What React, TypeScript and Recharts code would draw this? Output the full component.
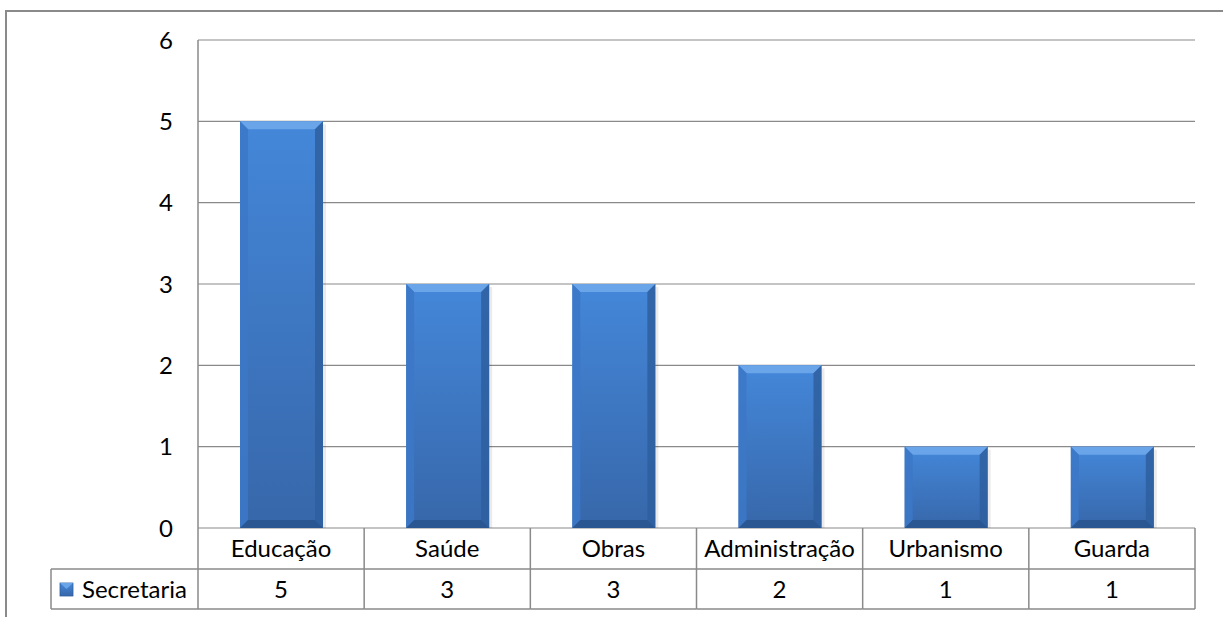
import React from "react";
import { BarChart, Bar, XAxis, YAxis, CartesianGrid } from "recharts";

const categories = ["Educação", "Saúde", "Obras", "Administração", "Urbanismo", "Guarda"];
const secretariaValues = [5, 3, 3, 2, 1, 1];
const yTicks = [0, 1, 2, 3, 4, 5, 6];
const seriesName = "Secretaria";

const data = categories.map((c, i) => ({ name: c, value: secretariaValues[i] }));

const LINE = "#8a8a8a";
const FONT = "Lato, 'Open Sans', sans-serif";
const FS = 24;

const BevelBar = (props: any) => {
  const { x, y, width, height } = props;
  if (!height || height <= 0) return null;
  const w = width;
  const h = height;
  const b = Math.min(8, h / 2, w / 2);
  return (
    <g>
      <rect x={x + w} y={y + 3} width={3} height={h - 3} fill="#000" opacity={0.08} />
      <rect x={x} y={y} width={w} height={h} fill="url(#barBody)" />
      <polygon points={`${x},${y} ${x + w},${y} ${x + w - b},${y + b} ${x + b},${y + b}`} fill="#6aa5ea" />
      <polygon points={`${x},${y} ${x + b},${y + b} ${x + b},${y + h - b} ${x},${y + h}`} fill="#3c78c6" opacity={0.9} />
      <polygon points={`${x + w},${y} ${x + w},${y + h} ${x + w - b},${y + h - b} ${x + w - b},${y + b}`} fill="#2e5f9f" opacity={0.85} />
      <polygon points={`${x},${y + h} ${x + w},${y + h} ${x + w - b},${y + h - b} ${x + b},${y + h - b}`} fill="#2a5792" />
    </g>
  );
};

const TableTick = (props: any) => {
  const { x, y, payload, index } = props;
  const half = payload && payload.offset ? payload.offset : 83;
  const rowH = 41;
  const left = x - half;
  const right = x + half;
  const value = secretariaValues[index];
  return (
    <g>
      <line x1={left} y1={y + rowH} x2={right} y2={y + rowH} stroke={LINE} strokeWidth={1.5} />
      <line x1={left} y1={y + rowH * 2 - 1} x2={right} y2={y + rowH * 2 - 1} stroke={LINE} strokeWidth={1.5} />
      <line x1={right} y1={y} x2={right} y2={y + rowH * 2 - 1} stroke={LINE} strokeWidth={1.5} />
      {index === 0 && (
        <g>
          <line x1={left} y1={y} x2={left} y2={y + rowH * 2 - 1} stroke={LINE} strokeWidth={1.5} />
          <line x1={left - 147} y1={y + rowH} x2={left} y2={y + rowH} stroke={LINE} strokeWidth={1.5} />
          <line x1={left - 147} y1={y + rowH * 2 - 1} x2={left} y2={y + rowH * 2 - 1} stroke={LINE} strokeWidth={1.5} />
          <line x1={left - 147} y1={y + rowH} x2={left - 147} y2={y + rowH * 2 - 1} stroke={LINE} strokeWidth={1.5} />
          <rect x={left - 138} y={y + rowH + 14} width={13} height={13} fill="url(#barBody)" stroke="#2e5f9f" strokeWidth={0.8} />
          <polygon
            points={`${left - 138},${y + rowH + 14} ${left - 125},${y + rowH + 14} ${left - 131.5},${y + rowH + 20}`}
            fill="#6aa5ea"
          />
          <text x={left - 116} y={y + rowH + 20.5} dy="0.355em" textAnchor="start" fontSize={FS} fontFamily={FONT} fill="#000">
            {seriesName}
          </text>
        </g>
      )}
      <text x={x} y={y + rowH / 2} dy="0.355em" textAnchor="middle" fontSize={FS} fontFamily={FONT} fill="#000">
        {payload.value}
      </text>
      <text x={x} y={y + rowH * 1.5} dy="0.355em" textAnchor="middle" fontSize={FS} fontFamily={FONT} fill="#000">
        {value}
      </text>
    </g>
  );
};

export default function App() {
  return (
    <div style={{ position: "relative", width: 1223, height: 617, background: "#fff", overflow: "hidden" }}>
      <style>{`body{margin:0;}`}</style>
      <div
        style={{
          position: "absolute",
          left: 5,
          top: 10,
          width: 1300,
          height: 700,
          borderLeft: `2px solid ${LINE}`,
          borderTop: `2px solid ${LINE}`,
          boxSizing: "border-box",
        }}
      />
      <div style={{ position: "absolute", left: 0, top: 0 }}>
        <BarChart width={1223} height={617} data={data} margin={{ top: 40, right: 28, bottom: 0, left: 138 }}>
          <defs>
            <linearGradient id="barBody" x1="0" y1="0" x2="0" y2="1">
              <stop offset="0%" stopColor="#4487d9" />
              <stop offset="100%" stopColor="#3767aa" />
            </linearGradient>
          </defs>
          <CartesianGrid vertical={false} stroke={LINE} strokeWidth={1.2} />
          <YAxis
            type="number"
            domain={[0, 6]}
            ticks={yTicks}
            width={60}
            axisLine={{ stroke: LINE, strokeWidth: 1.5 }}
            tickLine={false}
            tickSize={0}
            tickMargin={25}
            tick={{ fontSize: FS, fontFamily: FONT, fill: "#000" }}
          />
          <XAxis
            dataKey="name"
            height={89}
            axisLine={false}
            tickLine={false}
            tickSize={0}
            tickMargin={0}
            interval={0}
            tick={<TableTick />}
          />
          <Bar dataKey="value" name={seriesName} barSize={83} isAnimationActive={false} shape={<BevelBar />} />
        </BarChart>
      </div>
    </div>
  );
}
